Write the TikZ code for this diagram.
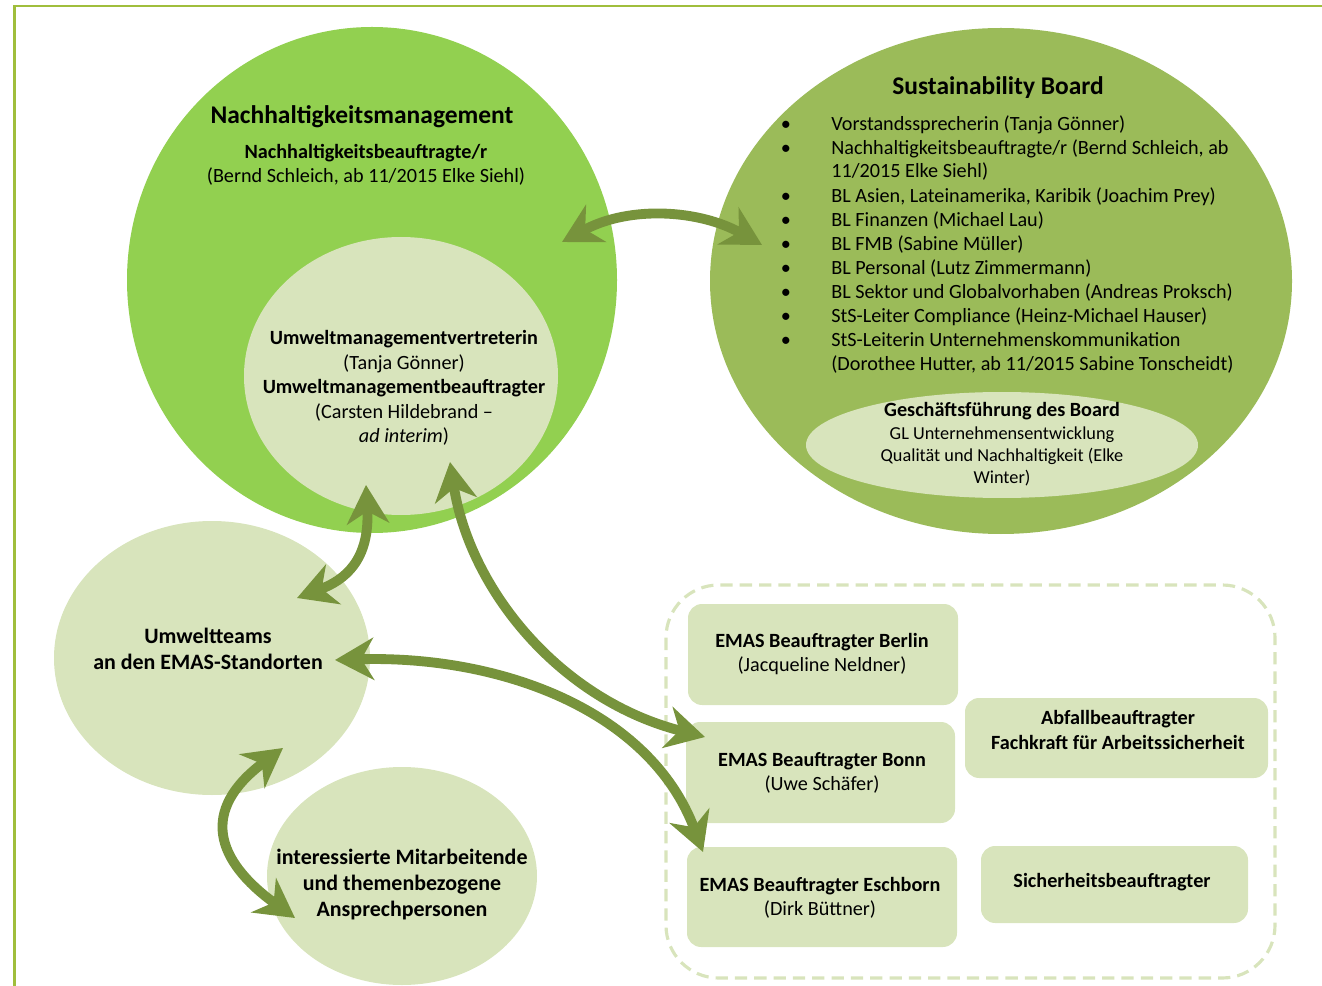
\documentclass[tikz,border=0pt]{standalone}
\usepackage{fontspec}
\setmainfont{Carlito}
\usetikzlibrary{arrows.meta}
\usetikzlibrary{positioning}
\definecolor{brightgreen}{RGB}{146,208,80}
\definecolor{olivegreen}{RGB}{155,187,89}
\definecolor{palegreen}{RGB}{216,228,188}
\definecolor{arrowgreen}{RGB}{119,147,60}
\definecolor{framegreen}{RGB}{160,190,60}
\tikzstyle{frame} = [draw = framegreen, line width = 1.2pt]
\tikzstyle{bubble} = [fill = palegreen]
\tikzstyle{staff box} = [fill = palegreen, rounded corners = 8pt]
\tikzstyle{dashed box} = [draw = palegreen, line width = 1.8pt, dash pattern = on 7pt off 4pt, rounded corners = 30pt]
\tikzstyle{link} = [draw = arrowgreen, line width = 5.6pt,
    {Stealth[length = 22pt, width = 24pt, inset = 7pt]}-{Stealth[length = 22pt, width = 24pt, inset = 7pt]}]
\tikzstyle{title text} = [font = \fontsize{14.5}{17}\selectfont\bfseries, inner sep = 0]
\tikzstyle{body text} = [font = \fontsize{11.5}{13.7}\selectfont, align = center, inner sep = 0]
\tikzstyle{small text} = [font = \fontsize{10.4}{12.7}\selectfont, align = center, inner sep = 0]
\tikzstyle{bubble text} = [font = \fontsize{12.5}{14.8}\selectfont\bfseries, align = center, inner sep = 0]
\tikzstyle{list text} = [font = \fontsize{11.5}{13.7}\selectfont, anchor = base west, inner sep = 0]
\tikzstyle{list dot} = [font = \fontsize{11.5}{13.7}\selectfont, anchor = base, inner sep = 0]

\begin{document}
\begin{tikzpicture}[x=0.02cm, y=0.02cm]
    \useasboundingbox (0,0) rectangle (1322,-986);

    % frame
    \draw [frame] (1322,-6) -- (14.5,-6) -- (14.5,-986);

    % bubbles
    \fill [brightgreen] (372,-280) ellipse [x radius=245, y radius=253];
    \fill [olivegreen] (1001,-281) ellipse [x radius=291, y radius=253];
    \fill [bubble] (401,-376) ellipse [x radius=157, y radius=139];
    \fill [bubble] (1002,-445) ellipse [x radius=196, y radius=53];
    \fill [bubble] (212,-658) ellipse [x radius=158, y radius=137];
    \fill [bubble] (402,-876) ellipse [x radius=135, y radius=109];

    % EMAS group
    \draw [dashed box] (666,-585) rectangle (1275,-978);
    \fill [staff box] (688,-604) rectangle (958,-705);
    \fill [staff box] (686,-722) rectangle (955,-823);
    \fill [staff box] (687,-847) rectangle (957,-947);
    \fill [staff box] (965,-698) rectangle (1268,-778);
    \fill [staff box] (981,-846) rectangle (1248,-923);

    % texts
    \node [title text] (nm title) at (362,-117) {Nachhaltigkeitsmanagement};
    \node [body text] (nm staff) at (366,-165)
        {\textbf{Nachhaltigkeitsbeauftragte/r}\\(Bernd Schleich, ab 11/2015 Elke Siehl)};
    \node [body text, font = \fontsize{11.5}{14}\selectfont] (um staff) at (404,-388)
        {\textbf{Umweltmanagementvertreterin}\\(Tanja Gönner)\\
         \textbf{Umweltmanagementbeauftragter}\\(Carsten Hildebrand –\\\textit{ad interim})};

    \node [title text] (sb title) at (998,-88) {Sustainability Board};
    \foreach \n/\yy/\t in {1/124/{Vorstandssprecherin (Tanja Gönner)},
                           2/148/{Nachhaltigkeitsbeauftragte/r (Bernd Schleich, ab},
                           3/171/{11/2015 Elke Siehl)},
                           4/196/{BL Asien, Lateinamerika, Karibik (Joachim Prey)},
                           5/220/{BL Finanzen (Michael Lau)},
                           6/244/{BL FMB (Sabine Müller)},
                           7/268/{BL Personal (Lutz Zimmermann)},
                           8/292/{BL Sektor und Globalvorhaben (Andreas Proksch)},
                           9/316/{StS-Leiter Compliance (Heinz-Michael Hauser)},
                           10/340/{StS-Leiterin Unternehmenskommunikation},
                           11/364/{(Dorothee Hutter, ab 11/2015 Sabine Tonscheidt)}}
    {
        \node [list text] (sb line\n) at (831,-\yy-7) {\t};
    }
    \foreach \yy in {124, 148, 196, 220, 244, 268, 292, 316, 340}
    {
        \node [list dot] (sb dot\yy) at (786,-\yy-7) {\textbullet};
    }
    \node [small text] (gf staff) at (1002,-444.5)
        {{\fontsize{11.5}{12.7}\selectfont\bfseries Geschäftsführung des Board}\\GL Unternehmensentwicklung\\
         Qualität und Nachhaltigkeit (Elke\\Winter)};

    \node [bubble text] (teams) at (208,-649) {Umweltteams\\an den EMAS-Standorten};
    \node [bubble text] (staff) at (402,-885)
        {interessierte Mitarbeitende\\und themenbezogene\\Ansprechpersonen};

    \node [body text] (berlin) at (822,-654) {\textbf{EMAS Beauftragter Berlin}\\(Jacqueline Neldner)};
    \node [body text] (bonn) at (822,-773) {\textbf{EMAS Beauftragter Bonn}\\(Uwe Schäfer)};
    \node [body text] (eschborn) at (820,-898) {\textbf{EMAS Beauftragter Eschborn}\\(Dirk Büttner)};
    \node [body text, font = \fontsize{11.5}{13.7}\selectfont\bfseries] (waste) at (1118,-730)
        {Abfallbeauftragter\\Fachkraft für Arbeitssicherheit};
    \node [body text, font = \fontsize{11.5}{13.7}\selectfont\bfseries] (safety) at (1112,-882)
        {Sicherheitsbeauftragter};

    % arrows
    \coordinate (nm end) at (562,-242);
    \coordinate (sb end) at (762,-245);
    \coordinate (um top) at (366,-485);
    \coordinate (teams top) at (297,-598);
    \coordinate (um right) at (450,-462);
    \coordinate (bonn end) at (705,-737);
    \coordinate (teams right) at (335,-660);
    \coordinate (eschborn end) at (703,-852);
    \coordinate (teams low) at (283,-748);
    \coordinate (staff end) at (295,-918);

    \draw [link] (nm end) .. controls (630,-205) and (700,-210) .. (sb end);
    \draw [link] (um top) .. controls (370,-560) and (345,-580) .. (teams top);
    \draw [link] (um right) .. controls (470,-590) and (560,-700) .. (bonn end);
    \draw [link] (teams right) .. controls (500,-655) and (650,-710) .. (eschborn end);
    \draw [link] (teams low) .. controls (200,-810) and (215,-860) .. (staff end);
\end{tikzpicture}
\end{document}
